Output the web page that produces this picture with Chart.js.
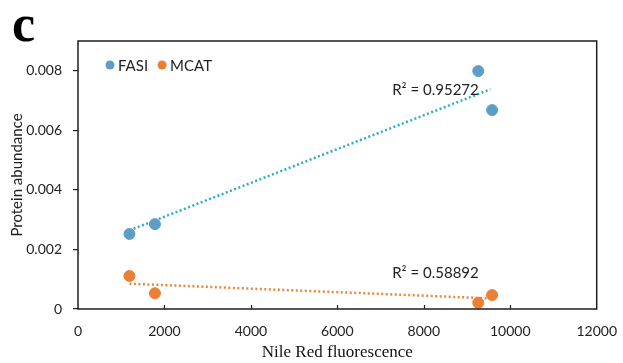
<!DOCTYPE html>
<html>
<head>
<meta charset="utf-8">
<script src="https://cdn.jsdelivr.net/npm/chart.js@4.4.1/dist/chart.umd.min.js"></script>
<style>
  html, body { margin: 0; padding: 0; background: #fff; }
  #wrap { position: relative; width: 623px; height: 363px; }
</style>
</head>
<body>
<div id="wrap"><canvas id="c" width="623" height="363"></canvas></div>
<script>
// Nile Red fluorescence vs protein abundance, FASI and MCAT with linear trendlines
const fasiX = [1190, 1780, 9260, 9580];
const fasiY = [0.00252, 0.00285, 0.00799, 0.00668];
const mcatX = [1190, 1780, 9260, 9580];
const mcatY = [0.00111, 0.00053, 0.00021, 0.00047];

// trendline ends as drawn in the figure
const fasiTrendX = [1190, 9540];
const fasiTrendY = [0.00264, 0.00738];
const mcatTrendX = [1190, 9470];
const mcatTrendY = [0.00085, 0.00036];

const r2Labels = ['R\u00b2 = 0.95272', 'R\u00b2 = 0.58892'];
const r2X = [8270, 8270];
const r2Y = [0.00736, 0.00122];

const xTicks = [0, 2000, 4000, 6000, 8000, 10000, 12000];
const yTicks = [0, 0.002, 0.004, 0.006, 0.008];

const BLUE = '#5b9fc7', BLUE_LINE = '#2badc8';
const ORANGE = '#ea7f35', ORANGE_LINE = '#e8873c';
const SANS = 'Lato';

const pts = (xs, ys) => xs.map((x, i) => ({ x: x, y: ys[i] }));

// ---- extra drawing: frame, inner x ticks, legend, R² text, panel letter ----
const extras = {
  id: 'extras',
  afterDraw(chart) {
    const { ctx, chartArea: a, scales: { x, y } } = chart;
    ctx.save();
    ctx.strokeStyle = '#1e1e1e';
    ctx.lineWidth = 1.5;
    ctx.strokeRect(a.left, a.top, a.right - a.left, a.bottom - a.top);
    ctx.lineWidth = 1.2;
    xTicks.slice(1, -1).forEach(v => {
      const px = Math.round(x.getPixelForValue(v)) + 0.5;
      ctx.beginPath(); ctx.moveTo(px, a.bottom); ctx.lineTo(px, a.bottom - 4); ctx.stroke();
    });

    // legend, top-left inside the plot
    ctx.font = '15px ' + SANS;
    ctx.textBaseline = 'middle';
    ctx.textAlign = 'left';
    let lx = a.left + 32;
    const ly = a.top + 24;
    chart.data.datasets.slice(0, 2).forEach(ds => {
      ctx.fillStyle = ds.backgroundColor;
      ctx.beginPath(); ctx.arc(lx, ly, 4.5, 0, Math.PI * 2); ctx.fill();
      ctx.fillStyle = '#222';
      ctx.fillText(ds.label, lx + 8, ly + 1);
      lx += 8 + ctx.measureText(ds.label).width + 14;
    });

    ctx.fillStyle = '#222';
    ctx.font = '15px ' + SANS;
    ctx.textAlign = 'center';
    r2Labels.forEach((t, i) => ctx.fillText(t, x.getPixelForValue(r2X[i]), y.getPixelForValue(r2Y[i])));
    ctx.fillStyle = '#000';
    ctx.font = 'bold 52px "Liberation Serif", serif';
    ctx.textAlign = 'left';
    ctx.textBaseline = 'alphabetic';
    ctx.fillText('c', 12, 41);
    ctx.restore();
  }
};

new Chart(document.getElementById('c'), {
  type: 'scatter',
  data: {
    datasets: [
      { label: 'FASI', data: pts(fasiX, fasiY), backgroundColor: BLUE, borderColor: BLUE, pointRadius: 5.5, pointHoverRadius: 5.5, order: 1 },
      { label: 'MCAT', data: pts(mcatX, mcatY), backgroundColor: ORANGE, borderColor: ORANGE, pointRadius: 5.5, pointHoverRadius: 5.5, order: 1 },
      { label: 'fasi-trend', data: pts(fasiTrendX, fasiTrendY), type: 'line', showLine: true, borderColor: BLUE_LINE, borderWidth: 2.5, borderDash: [2, 2.5], pointRadius: 0, fill: false, order: 2 },
      { label: 'mcat-trend', data: pts(mcatTrendX, mcatTrendY), type: 'line', showLine: true, borderColor: ORANGE_LINE, borderWidth: 2.5, borderDash: [2, 2.5], pointRadius: 0, fill: false, order: 2 }
    ]
  },
  options: {
    responsive: false, animation: false,
    devicePixelRatio: 1,
    layout: { padding: { top: 41, right: 20, left: 0, bottom: 0 } },
    plugins: {
      tooltip: { enabled: false },
      legend: { display: false }
    },
    scales: {
      x: {
        type: 'linear', min: 0, max: 12000,
        afterFit: s => { s.height = 54; },
        afterBuildTicks: s => { s.ticks = xTicks.map(v => ({ value: v })); },
        grid: { display: false },
        border: { display: false },
        ticks: { padding: 6, color: '#222', font: { family: SANS, size: 14 }, callback: v => String(v) },
        title: { display: true, text: 'Nile Red fluorescence', color: '#111', font: { family: '"Liberation Serif", serif', size: 17 }, padding: { top: 0, bottom: 0 } }
      },
      y: {
        type: 'linear', min: 0, max: 0.009,
        afterFit: s => { s.width = 78; },
        afterBuildTicks: s => { s.ticks = yTicks.map(v => ({ value: v })); },
        grid: { drawOnChartArea: false, color: '#1e1e1e', tickLength: 5, lineWidth: 1.2 },
        border: { display: false },
        ticks: { padding: 11, color: '#222', font: { family: SANS, size: 14 }, callback: v => String(+v.toFixed(3)) },
        title: { display: true, text: 'Protein abundance', color: '#222', font: { family: SANS, size: 15 }, padding: { top: 8, bottom: 0 } }
      }
    }
  },
  plugins: [extras]
});
</script>
</body>
</html>
